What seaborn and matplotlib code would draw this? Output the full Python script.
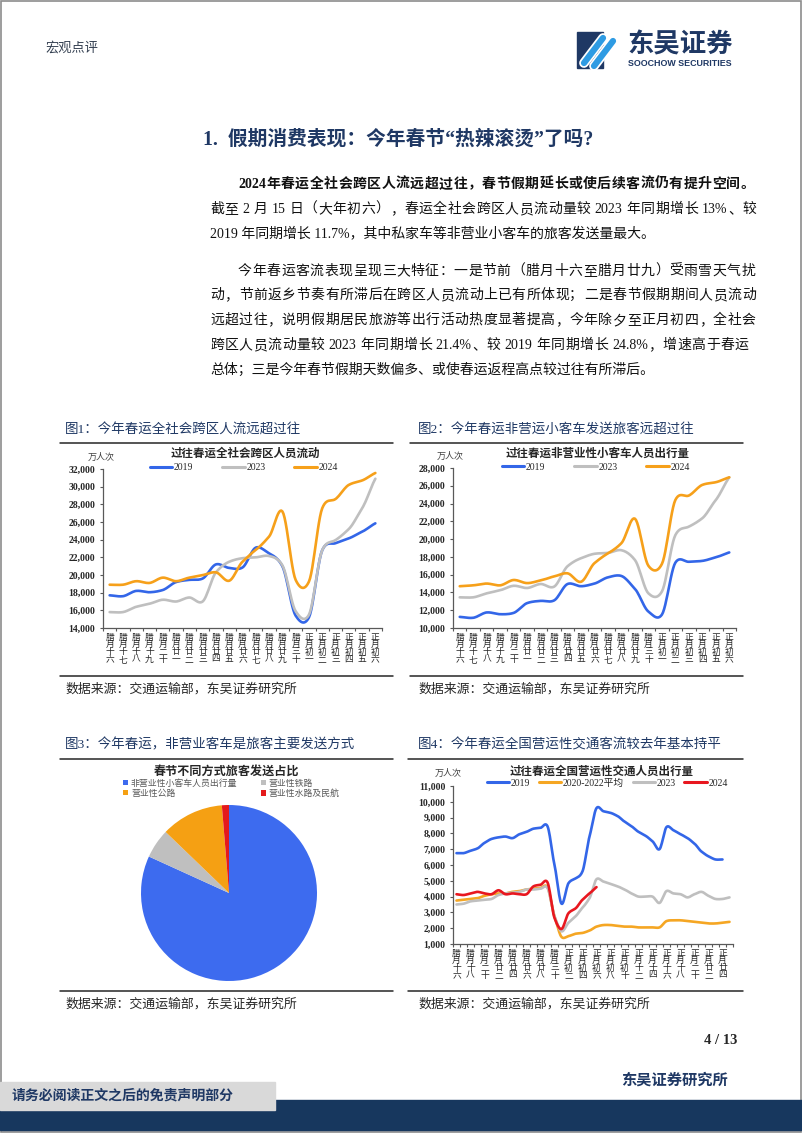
import re
import numpy as np
import pandas as pd
import seaborn as sns
import matplotlib.pyplot as plt
from matplotlib.lines import Line2D
from matplotlib.patches import Rectangle

W, H = 802, 1133

# ---------------- data ----------------
days_short = ['腊月十六', '腊月十七', '腊月十八', '腊月十九', '腊月二十', '腊月廿一', '腊月廿二',
              '腊月廿三', '腊月廿四', '腊月廿五', '腊月廿六', '腊月廿七', '腊月廿八', '腊月廿九',
              '腊月三十', '正月初一', '正月初二', '正月初三', '正月初四', '正月初五', '正月初六']

# fig 1: cross-region flows (10k person-trips)
cross_2019 = [17700, 17600, 18200, 18050, 18300, 19200, 19450, 19600, 21200, 20800, 20850,
              23100, 22450, 21000, 15400, 15200, 22800, 23600, 24150, 24900, 25850]
cross_2023 = [15800, 15800, 16400, 16750, 17200, 17000, 17450, 17000, 20300, 21500, 21900,
              22000, 22150, 21100, 15900, 15500, 22800, 23950, 25200, 27550, 30900]
cross_2024 = [18900, 18900, 19300, 19100, 19700, 19300, 19700, 19990, 20300, 19350, 21500,
              22850, 24350, 27200, 19450, 19250, 27550, 28600, 30200, 30700, 31550]

# fig 2: non-commercial small passenger cars
car_2019 = [11250, 11150, 11750, 11550, 11700, 12800, 13050, 13100, 14950, 14700, 15000,
            15700, 15850, 14400, 11850, 11500, 17350, 17450, 17550, 17950, 18500]
car_2023 = [13450, 13450, 13900, 14250, 14750, 14500, 14950, 14650, 16950, 17850, 18350,
            18450, 18750, 17650, 13900, 14100, 20450, 21400, 22350, 24400, 26950]
car_2024 = [14700, 14800, 15000, 14800, 15400, 15050, 15350, 15800, 16150, 15200, 17300,
            18400, 19550, 22300, 17000, 17200, 24400, 24900, 26100, 26400, 26950]

# fig 3: share of trips by mode (%)
pie_labels = ['非营业性小客车人员出行量', '营业性铁路', '营业性公路', '营业性水路及民航']
pie_share = [81.8, 5.4, 11.5, 1.3]

# fig 4: commercial transport trips
days_long = ['腊月十六', '腊月十七', '腊月十八', '腊月十九', '腊月二十', '腊月廿一', '腊月廿二',
             '腊月廿三', '腊月廿四', '腊月廿五', '腊月廿六', '腊月廿七', '腊月廿八', '腊月廿九',
             '腊月三十', '正月初一', '正月初二', '正月初三', '正月初四', '正月初五', '正月初六',
             '正月初七', '正月初八', '正月初九', '正月初十', '正月十一', '正月十二', '正月十三',
             '正月十四', '正月十五', '正月十六', '正月十七', '正月十八', '正月十九', '正月二十',
             '正月廿一', '正月廿二', '正月廿三', '正月廿四', '正月廿五']
op_2019 = [6750, 6750, 6900, 7050, 7400, 7650, 7750, 7800, 7700, 7950, 8100, 8300, 8350,
           8450, 6000, 3550, 4850, 5150, 5600, 7800, 9600, 9400, 9300, 9100, 8750, 8450,
           8100, 7850, 7500, 7000, 8400, 8200, 7950, 7700, 7350, 6850, 6550, 6350, 6350]
op_avg = [3750, 3800, 3850, 3900, 4050, 4150, 4200, 4200, 4300, 4350, 4450, 4500, 4550,
          4600, 2750, 1450, 1500, 1650, 1700, 1850, 2100, 2200, 2200, 2150, 2100, 2100,
          2050, 2050, 2050, 2050, 2450, 2500, 2500, 2450, 2400, 2350, 2300, 2300, 2350, 2400]
op_2023 = [3500, 3550, 3700, 3750, 3800, 3850, 4100, 4200, 4250, 4300, 4450, 4450, 4500,
           4550, 2750, 1800, 2350, 2750, 3300, 3900, 5100, 4950, 4800, 4650, 4450, 4200,
           4000, 4000, 4000, 3600, 4350, 4200, 4150, 3950, 4150, 4300, 4050, 3850, 3850, 3950]
op_2024 = [4150, 4100, 4200, 4300, 4200, 4150, 4400, 4150, 4200, 4150, 4150, 4650, 4750,
           4900, 2650, 1950, 2950, 3250, 3800, 4200, 4600]

BLUE, GREY, ORANGE, RED = '#3366E8', '#BFBFBF', '#F6A01A', '#E8171F'
NAVY, BAND = '#1F3864', '#17375E'

para1 = ['2024年春运全社会跨区人流远超过往，春节假期延长或使后续客流仍有提升空间。',
         '截至 2 月 15 日（大年初六），春运全社会跨区人员流动量较 2023 年同期增长 13%、较',
         '2019 年同期增长 11.7%，其中私家车等非营业小客车的旅客发送量最大。']
para2 = ['今年春运客流表现呈现三大特征：一是节前（腊月十六至腊月廿九）受雨雪天气扰',
         '动，节前返乡节奏有所滞后在跨区人员流动上已有所体现；二是春节假期期间人员流动',
         '远超过往，说明假期居民旅游等出行活动热度显著提高，今年除夕至正月初四，全社会',
         '跨区人员流动量较 2023 年同期增长 21.4%、较 2019 年同期增长 24.8%，增速高于春运',
         '总体；三是今年春节假期天数偏多、或使春运返程高点较过往有所滞后。']

# ---------------- setup ----------------
sns.set_theme(style='white')
plt.rcParams['font.family'] = ['Liberation Serif', 'Noto Sans CJK SC']
plt.rcParams['axes.unicode_minus'] = False

fig = plt.figure(figsize=(W / 100, H / 100), dpi=100)
renderer = fig.canvas.get_renderer()


def fx(x):
    return x / W


def fy(y):
    return 1 - y / H


def box(x0, y0, x1, y1):
    return [x0 / W, 1 - y1 / H, (x1 - x0) / W, (y1 - y0) / H]


def txt(x, y, s, **kw):
    kw.setdefault('va', 'center')
    return fig.text(fx(x), fy(y), s, **kw)


def hline(x0, x1, y, lw=1.1, color='#262626'):
    fig.add_artist(Line2D([fx(x0), fx(x1)], [fy(y), fy(y)], color=color, lw=lw,
                          transform=fig.transFigure))


def rect(x0, y0, x1, y1, **kw):
    fig.add_artist(Rectangle((fx(x0), fy(y1)), (x1 - x0) / W, (y1 - y0) / H,
                             transform=fig.transFigure, **kw))


def text_line(x0, x1, y, s, size, justify=True, **kw):
    # Word justifies Chinese lines to the right margin; spread the glyphs the same way
    em = size * 100 / 72
    base = y + 0.36 * em
    if not justify:
        fig.text(fx(x0), fy(base), s, fontsize=size, va='baseline', **kw)
        return
    items = []
    for tk in re.findall(r'[0-9A-Za-z.%]+| |.', s):
        if tk == ' ':
            items.append((None, 0.22 * em))
        else:
            t = fig.text(0, 0, tk, fontsize=size, va='baseline', **kw)
            items.append((t, t.get_window_extent(renderer).width))
    gap = max((x1 - x0 - sum(w for _, w in items)) / (len(items) - 1), 0.5)
    x = x0
    for t, w in items:
        if t is not None:
            t.set_position((fx(x), fy(base)))
        x += w + gap


def smooth(vals, n=12, c=0.4):
    # cardinal spline through the points (close to Excel's smoothed line)
    y = np.asarray(vals, float)
    p = np.concatenate([[2 * y[0] - y[1]], y, [2 * y[-1] - y[-2]]])
    m = c * (p[2:] - p[:-2])
    t = np.linspace(0, 1, n, endpoint=False)
    h00, h10 = 2 * t ** 3 - 3 * t ** 2 + 1, t ** 3 - 2 * t ** 2 + t
    h01, h11 = -2 * t ** 3 + 3 * t ** 2, t ** 3 - t ** 2
    xs, ys = [], []
    for i in range(len(y) - 1):
        xs.extend(i + t)
        ys.extend(h00 * y[i] + h10 * m[i] + h01 * y[i + 1] + h11 * m[i + 1])
    xs.append(len(y) - 1)
    ys.append(y[-1])
    return xs, ys


def line_chart(px, labels, series, colors, ylim, ystep, every=1):
    ax = fig.add_axes(box(*px))
    frames = []
    for name, vals in series.items():
        xs, ys = smooth(vals)
        frames.append(pd.DataFrame({'x': xs, 'y': ys, 'series': name}))
    df = pd.concat(frames, ignore_index=True)
    sns.lineplot(data=df, x='x', y='y', hue='series', hue_order=list(series),
                 palette=colors, estimator=None, sort=False, linewidth=1.9,
                 legend=False, ax=ax)
    n = len(labels)
    ax.set_xlim(-0.5, n - 0.5)
    ax.set_ylim(*ylim)
    yt = np.arange(ylim[0], ylim[1] + 1, ystep)
    ax.set_yticks(yt)
    ax.set_yticklabels([f'{v:,}' for v in yt], fontsize=7, fontweight='bold')
    pos = list(range(0, n, every))
    ax.set_xticks(pos)
    ax.set_xticklabels(['\n'.join(labels[i]) for i in pos], fontsize=6.3,
                       linespacing=0.9, color='#262626')
    ax.set_xticks(np.arange(-0.5, n), minor=True)
    ax.tick_params(axis='x', which='major', length=0, pad=4)
    ax.tick_params(axis='x', which='minor', bottom=True, length=2.5, color='#595959', width=0.8)
    ax.tick_params(axis='y', left=True, length=2.5, color='#595959', width=0.8, pad=3)
    ax.set_xlabel('')
    ax.set_ylabel('')
    for s in ['top', 'right']:
        ax.spines[s].set_visible(False)
    for s in ['left', 'bottom']:
        ax.spines[s].set_color('#595959')
        ax.spines[s].set_linewidth(0.9)
    return ax


def line_legend(x, y, labels, colors, colsp):
    handles = [Line2D([], [], color=c, lw=2.2) for c in colors]
    fig.legend(handles, labels, loc='center left', bbox_to_anchor=(fx(x), fy(y)),
               ncol=len(labels), frameon=False, fontsize=7, handlelength=2.3,
               handletextpad=0.15, columnspacing=colsp, borderpad=0, borderaxespad=0)


# ---------------- page frame / header ----------------
rect(0.5, 0.5, W - 1.5, H - 1.5, fill=False, edgecolor='#8c8c8c', lw=1.2)
txt(45, 48, '宏观点评', fontsize=9.5, color='#333F50')

# logo
rect(577, 32, 603, 68, color=NAVY)
for xa, ya, xb, yb in [(584, 63, 603, 38), (594, 66, 613, 41)]:
    fig.add_artist(Line2D([fx(xa), fx(xb)], [fy(ya), fy(yb)], color='white', lw=7,
                          solid_capstyle='round', transform=fig.transFigure))
    fig.add_artist(Line2D([fx(xa), fx(xb)], [fy(ya), fy(yb)], color='#2E9BE3', lw=4.5,
                          solid_capstyle='round', transform=fig.transFigure))
txt(627, 45, '东吴证券', fontsize=19, fontweight='bold', color=NAVY)
txt(628, 64, 'SOOCHOW SECURITIES', fontsize=6.4, fontweight='bold', color=NAVY,
    family=['Liberation Sans', 'DejaVu Sans'])

# section title and body text
txt(203, 140, '1.  假期消费表现：今年春节“热辣滚烫”了吗?', fontsize=14.2,
    fontweight='bold', color=NAVY)
LEFT, RIGHT, INDENT = 210, 741, 28
for i, (s, y) in enumerate(zip(para1, [183, 208, 232])):
    text_line(LEFT + (INDENT if i == 0 else 0), RIGHT, y, s, 10,
              justify=i < len(para1) - 1, color='#111111',
              fontweight='bold' if i == 0 else 'normal')
for i, (s, y) in enumerate(zip(para2, [270, 294, 319, 344, 369])):
    text_line(LEFT + (INDENT if i == 0 else 0), RIGHT, y, s, 10,
              justify=i < len(para2) - 1, color='#111111')

# ---------------- chart headings ----------------
src = '数据来源：交通运输部，东吴证券研究所'
txt(65, 430, '图1：今年春运全社会跨区人流远超过往', fontsize=9.7, color=NAVY)
txt(418, 430, '图2：今年春运非营运小客车发送旅客远超过往', fontsize=9.7, color=NAVY)
txt(65, 745, '图3：今年春运，非营业客车是旅客主要发送方式', fontsize=9.7, color=NAVY)
txt(418, 745, '图4：今年春运全国营运性交通客流较去年基本持平', fontsize=9.7, color=NAVY)
hline(60, 393, 443)
hline(410, 743, 443)
hline(60, 393, 676)
hline(410, 743, 676)
hline(60, 393, 759)
hline(408, 743, 759)
hline(60, 393, 991)
hline(408, 743, 991)
for x, y in [(65, 689), (418, 689), (65, 1004), (418, 1004)]:
    txt(x, y, src, fontsize=9.3, color='#262626')

# ---------------- figure 1 ----------------
line_chart((103, 469, 382, 628), days_short,
           {'2019': cross_2019, '2023': cross_2023, '2024': cross_2024},
           [BLUE, GREY, ORANGE], (14000, 32000), 2000)
txt(245, 454, '过往春运全社会跨区人员流动', fontsize=8.3, fontweight='bold', ha='center')
txt(88, 457, '万人次', fontsize=6.5, color='#404040')
line_legend(150, 468, ['2019', '2023', '2024'], [BLUE, GREY, ORANGE], 3.0)

# ---------------- figure 2 ----------------
line_chart((453, 468, 736, 628), days_short,
           {'2019': car_2019, '2023': car_2023, '2024': car_2024},
           [BLUE, GREY, ORANGE], (10000, 28000), 2000)
txt(598, 454, '过往春运非营业性小客车人员出行量', fontsize=8.3, fontweight='bold', ha='center')
txt(437, 456, '万人次', fontsize=6.5, color='#404040')
line_legend(502, 467, ['2019', '2023', '2024'], [BLUE, GREY, ORANGE], 3.0)

# ---------------- figure 3 ----------------
pax = fig.add_axes(box(141, 805, 317, 981))
wedges, _ = pax.pie(pie_share, colors=['#3D6BEF', GREY, '#F5A013', '#E41A1C'],
                    startangle=90, counterclock=False, wedgeprops=dict(linewidth=0))
pax.set_xlim(-1, 1)
pax.set_ylim(-1, 1)
txt(226, 772, '春节不同方式旅客发送占比', fontsize=8.7, fontweight='bold', ha='center')
order = [0, 2, 1, 3]
fig.legend([wedges[i] for i in order], [pie_labels[i] for i in order], ncol=2,
           loc='upper left', bbox_to_anchor=(fx(123), fy(779)), frameon=False,
           fontsize=6.4, labelcolor='#595959', handlelength=0.55, handleheight=0.55,
           handletextpad=0.35, columnspacing=2.6, labelspacing=0.2, borderpad=0,
           borderaxespad=0)

# ---------------- figure 4 ----------------
line_chart((453, 786, 733, 944), days_long,
           {'2019': op_2019, '2020-2022平均': op_avg, '2023': op_2023, '2024': op_2024},
           [BLUE, '#F5A623', GREY, RED], (1000, 11000), 1000, every=2)
txt(602, 772, '过往春运全国营运性交通人员出行量', fontsize=8.3, fontweight='bold', ha='center')
txt(435, 773, '万人次', fontsize=6.5, color='#404040')
line_legend(487, 783, ['2019', '2020-2022平均', '2023', '2024'],
            [BLUE, '#F5A623', GREY, RED], 0.9)

# ---------------- footer ----------------
txt(704, 1041, '4 / 13', fontsize=10.5, fontweight='bold')
txt(621, 1080, '东吴证券研究所', fontsize=11, fontweight='bold', color=NAVY)
rect(0, 1100, W, 1130, color=BAND)
rect(0, 1082, 275, 1110, color='#D9D9D9')
txt(12, 1096, '请务必阅读正文之后的免责声明部分', fontsize=10, fontweight='bold', color=NAVY)

fig.savefig('out.png', dpi=100)
